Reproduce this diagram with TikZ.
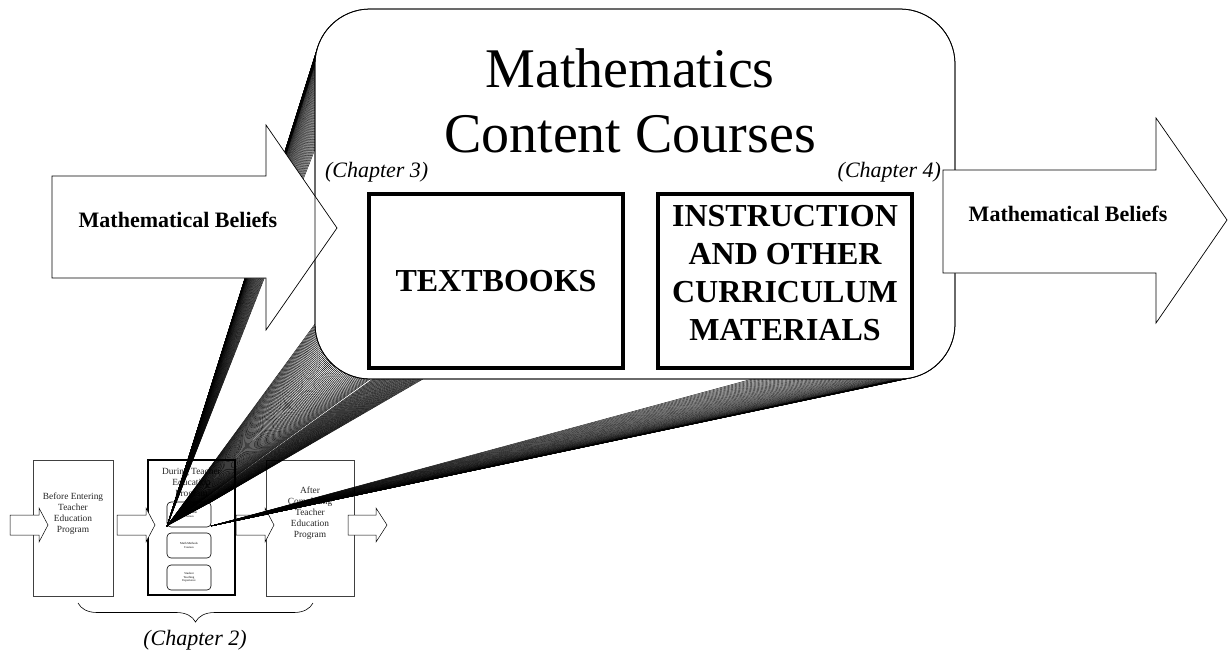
\documentclass[tikz,border=0pt]{standalone}
\usepackage{fontspec}
\setmainfont{Liberation Serif}[BoldFont={Liberation Serif Bold}, ItalicFont={Liberation Serif Italic}]
\usetikzlibrary{positioning,calc,decorations.pathreplacing}

\begin{document}
\begin{tikzpicture}[
  x=1pt, y=-1pt,
  every node/.style={inner sep=0pt, outer sep=0pt, align=center},
  stage/.style={draw=black!75, fill=white, line width=0.6pt,
    minimum width=80pt, minimum height=136pt},
  stagetext/.style={font=\fontsize{9.4}{10.9}\selectfont, text=black!85},
  course/.style={draw, fill=white, rounded corners=4pt, line width=0.6pt,
    minimum width=44pt, minimum height=25pt, font=\fontsize{3}{3.5}\selectfont},
  part/.style={draw, line width=3.6pt, minimum width=254pt, minimum height=174pt},
  parttext/.style={font=\bfseries\fontsize{32}{38}\selectfont},
  blockarrow/.style={draw, fill=white, line width=0.7pt, line join=miter},
  belief/.style={font=\bfseries\fontsize{22}{26}\selectfont},
  chapter/.style={font=\itshape\fontsize{22}{26}\selectfont},
  fan/.style={line width=0.4pt},
]
\useasboundingbox (0,0) rectangle (1230,651);

% teacher education overview
\node[stage] (before) at (73,528) {};
\node[stage, draw=black, line width=2.2pt, minimum width=87pt, minimum height=135pt] (during) at (191.5,527.5) {};
\node[stage, minimum width=88pt] (after) at (310,528) {};
\node[stagetext, below=33pt of before.north] {Before Entering\\Teacher\\Education\\Program};
\node[stagetext, below=8pt of during.north] {During Teacher\\Education\\Program};
\node[stagetext, below=27pt of after.north] {After\\Completing\\Teacher\\Education\\Program};

\node[course] (content) at (189,514.5) {Math Content\\Courses};
\node[course, below=6pt of content] (methods) {Math Methods\\Courses};
\node[course, below=7pt of methods] (teaching) {Student\\Teaching\\Experience};

\foreach \a/\b/\c in {10/39/48, 117/146/155, 236/265/274, 348/376/387}
  \draw[blockarrow, line width=0.5pt] (\a,515) -- (\b,515) -- (\b,508) -- (\c,525)
    -- (\b,542) -- (\b,535) -- (\a,535) -- cycle;

\draw[decorate, decoration={brace, mirror, amplitude=19pt}, line width=0.6pt]
  (78,603) -- (313,603);
\node[chapter, anchor=base] (chapter2) at (195,645) {(Chapter 2)};

% zoom fan from the content course box
\coordinate (apexL) at (167,526);
\coordinate (apexT) at (211,502);
\coordinate (apexR) at (211,526);
\foreach \a in {0,1.5,...,90} {
  \draw[fan] (apexL) -- ({370-55*cos(\a)},{64-55*sin(\a)});
  \draw[fan] (apexL) -- ({370-55*cos(\a)},{324+55*sin(\a)});
  \draw[fan] (apexR) -- ({900+55*sin(\a)},{324+55*cos(\a)});
}
\foreach \t in {0,0.025,...,1}
  \draw[fan] ($(apexL)!\t!(apexT)$) -- ({373+50*\t},379);

% mathematics content courses
\node[draw, fill=white, line width=0.75pt, rounded corners=55pt,
  minimum width=640pt, minimum height=370pt] (topic) at (635,194) {};
\node[font=\fontsize{56}{65}\selectfont, anchor=north] (title) at (630,49)
  {Mathematics\\Content Courses};
\node[chapter, anchor=base west] (chapter3) at (325,177) {(Chapter 3)};
\node[chapter, anchor=base east] (chapter4) at (941,177) {(Chapter 4)};

\node[part] (textbooks) at (496,281) {};
\node[part] (instruction) at (785,281) {};
\node[parttext] at (textbooks.center) {TEXTBOOKS};
\node[parttext] at ([yshift=8pt]instruction.center)
  {INSTRUCTION\\AND OTHER\\CURRICULUM\\MATERIALS};

% beliefs in and out
\draw[blockarrow] (52,176) -- (266,176) -- (266,125) -- (337,228)
  -- (266,330) -- (266,278) -- (52,278) -- cycle;
\node[belief, anchor=base] (beliefin) at (178,227) {Mathematical Beliefs};
\draw[line width=0.75pt, rounded corners=55pt] (topic.north west) rectangle (topic.south east);

\draw[blockarrow] (943,170) -- (1156,170) -- (1156,118) -- (1227,220)
  -- (1156,323) -- (1156,273) -- (943,273) -- cycle;
\node[belief, anchor=base] (beliefout) at (1068,221) {Mathematical Beliefs};
\end{tikzpicture}
\end{document}
